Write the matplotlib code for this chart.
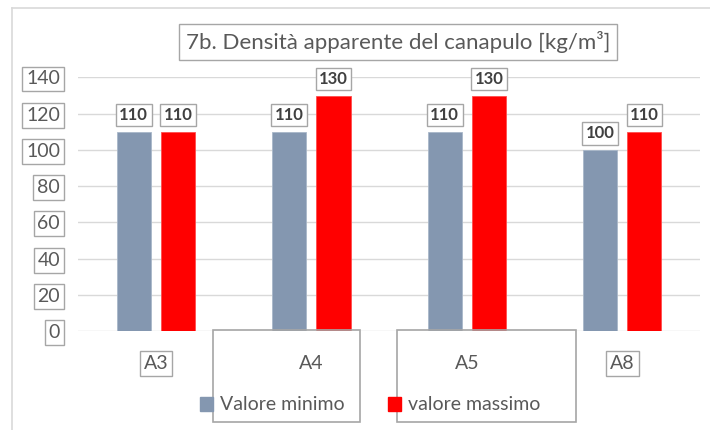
import numpy as np
import matplotlib.pyplot as plt
from matplotlib.patches import Rectangle, Patch
from matplotlib.lines import Line2D

categories = ['A3', 'A4', 'A5', 'A8']
valore_minimo = [110, 110, 110, 100]
valore_massimo = [110, 130, 130, 110]
y_ticks = [0, 20, 40, 60, 80, 100, 120, 140]

plt.rcParams['font.family'] = ['Lato', 'DejaVu Sans']
text_col = '#595959'
box_col = '#a6a6a6'

fig = plt.figure(figsize=(7.1, 4.3), dpi=100)
ax = fig.add_axes([0.110, 0.230, 0.876, 0.590])

x = np.arange(len(categories))
w = 0.22
off = 0.142
b1 = ax.bar(x - off, valore_minimo, w, color='#8497b0', edgecolor='#a9b7c9', linewidth=0.6, zorder=3)
b2 = ax.bar(x + off, valore_massimo, w, color='#ff0000', edgecolor='#ff4d4d', linewidth=0.6, zorder=3)

lbl_box = dict(boxstyle='square,pad=0.2', fc='white', ec=box_col, lw=1)
for bars in (b1, b2):
    for rect in bars:
        h = rect.get_height()
        ax.annotate(f'{h:.0f}', (rect.get_x() + rect.get_width() / 2, h),
                    xytext=(0, 12), textcoords='offset points', ha='center', va='center',
                    fontsize=12, fontweight='bold', color='#404040', bbox=lbl_box, zorder=4)

ax.set_xlim(-0.5, 3.5)
ax.set_ylim(0, 140)
ax.set_yticks(y_ticks)
ax.grid(axis='y', color='#d9d9d9', linewidth=1, zorder=0)
for s in ax.spines.values():
    s.set_visible(False)
ax.tick_params(axis='y', length=0, pad=13, labelsize=14, labelcolor=text_col)
ax.tick_params(axis='x', length=0, pad=17, labelsize=14, labelcolor=text_col)
ax.set_xticks(x)
ax.set_xticklabels(categories)

tick_box = dict(boxstyle='square,pad=0.2', fc='white', ec=box_col, lw=1)
for lbl in ax.get_yticklabels():
    lbl.set_bbox(tick_box)
for i, lbl in enumerate(ax.get_xticklabels()):
    if categories[i] in ('A3', 'A8'):
        lbl.set_bbox(tick_box)

# title in its own box
fig.text(398 / 710, 1 - 42 / 430, '7b. Densità apparente del canapulo [kg/m³]',
         ha='center', va='center', fontsize=16, color=text_col,
         bbox=dict(boxstyle='square,pad=0.3', fc='white', ec=box_col, lw=1))

# stray empty text boxes under A4 / A5
for x0, x1 in [(213, 360), (397, 576)]:
    fig.patches.append(Rectangle((x0 / 710, 1 - 422 / 430), (x1 - x0) / 710, 92 / 430,
                                 transform=fig.transFigure, fill=False, ec=box_col, lw=1.2, zorder=1))

# outer chart frame
fig.add_artist(Line2D([12 / 710, 12 / 710], [0, 1 - 8 / 430], color='#d9d9d9', lw=1.2))
fig.add_artist(Line2D([12 / 710, 1], [1 - 8 / 430, 1 - 8 / 430], color='#d9d9d9', lw=1.2))

handles = [Patch(color='#8497b0', label='Valore minimo'),
           Patch(color='#ff0000', label='valore massimo')]
fig.legend(handles=handles, loc='center', bbox_to_anchor=(370 / 710, 1 - 405 / 430), ncol=2,
           frameon=False, fontsize=14, handlelength=0.7, handleheight=0.7,
           handletextpad=0.35, columnspacing=2.2, labelcolor=text_col)

fig.savefig('out.png', dpi=100)
